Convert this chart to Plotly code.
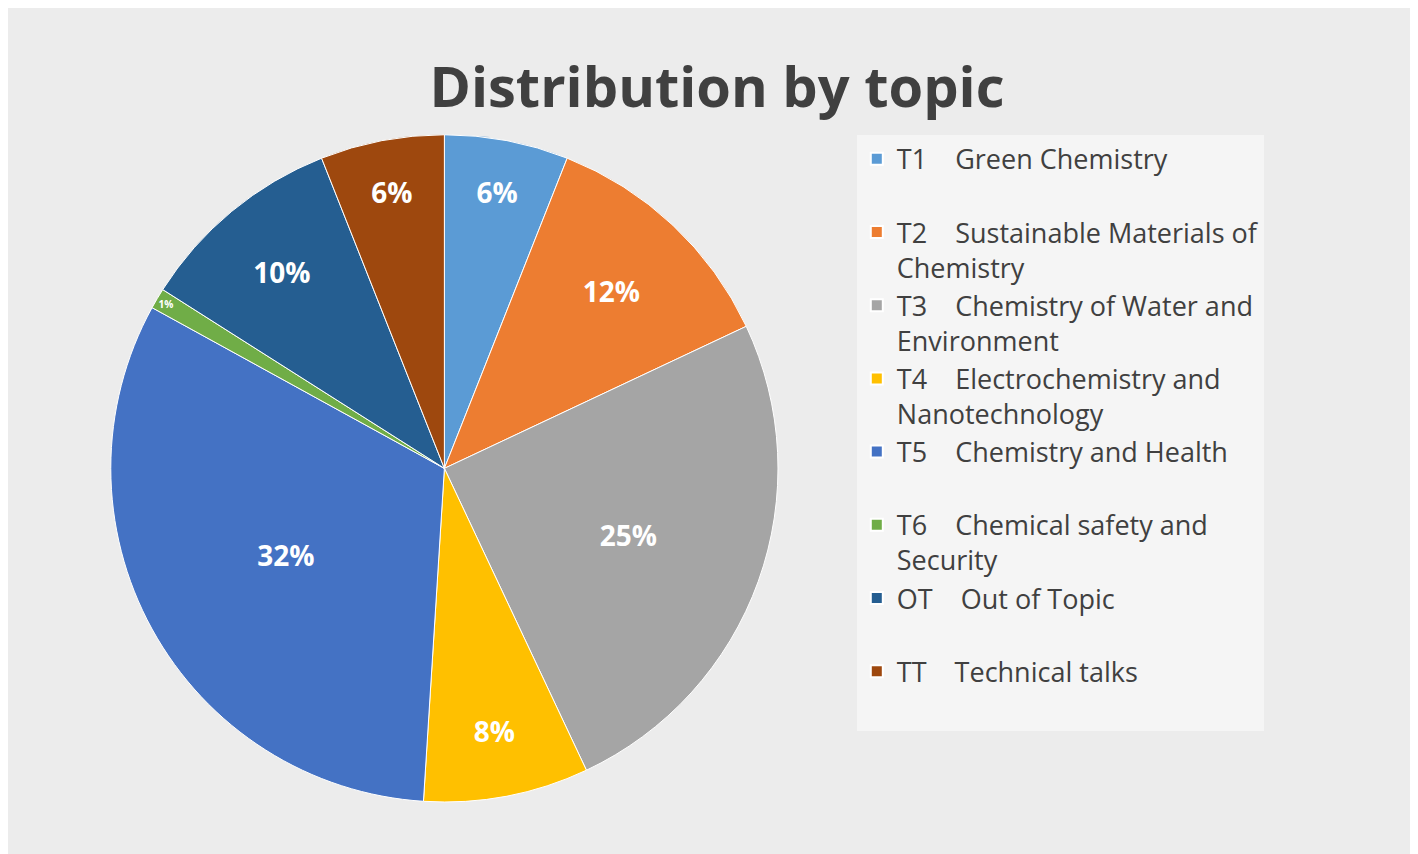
import plotly.graph_objects as go

codes = ["T1", "T2", "T3", "T4", "T5", "T6", "OT", "TT"]
topics = ["Green Chemistry", "Sustainable Materials of<br>Chemistry",
          "Chemistry of Water and<br>Environment", "Electrochemistry and<br>Nanotechnology",
          "Chemistry and Health", "Chemical safety and<br>Security", "Out of Topic",
          "Technical talks"]
shares = [6, 12, 25, 8, 32, 1, 10, 6]
colors = ["#5B9BD5", "#ED7D31", "#A5A5A5", "#FFC000", "#4472C4", "#70AD47", "#255E91", "#9E480E"]

# every legend entry takes two lines, like the reference
labels = []
for c, t in zip(codes, topics):
    text = f"{c}&nbsp;&nbsp;&nbsp;&nbsp;{t}"
    if "<br>" not in t:
        text += "<br>&nbsp;"
    labels.append(text)

fig = go.Figure(go.Pie(
    labels=labels,
    values=shares,
    sort=False,
    direction="clockwise",
    rotation=0,
    marker=dict(colors=colors, line=dict(color="white", width=1)),
    texttemplate="<b>%{percent:.0%}</b>",
    textposition="inside",
    insidetextorientation="horizontal",
    textfont=dict(size=28, color="white", family="Open Sans"),
    domain=dict(x=[0.03, 0.58], y=[0.06, 0.86]),
))

fig.update_layout(
    width=1418, height=854,
    margin=dict(l=10, r=10, t=10, b=10),
    paper_bgcolor="#ececec",
    title=dict(text="<b>Distribution by topic</b>", x=0.5, y=0.93, xanchor="center",
               font=dict(size=56, color="#404040", family="Open Sans")),
    legend=dict(x=0.6, y=0.86, xanchor="left", yanchor="top",
                bgcolor="#f5f5f5", font=dict(size=27, color="#404040", family="Open Sans"),
                itemsizing="constant", valign="top"),
)

fig.write_html("out.html")
